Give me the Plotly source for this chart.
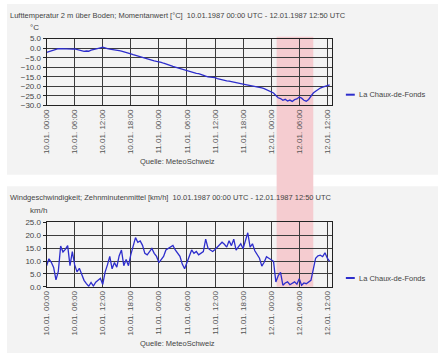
import pandas as pd
import plotly.graph_objects as go

# ---------------- data ----------------
START = "1987-01-10 00:00"
STEP = "30min"
station = "La Chaux-de-Fonds"

temperature = [
    -2.2, -1.8, -1.3, -0.8, -0.4, -0.3, -0.2, -0.3, -0.2, -0.4,
    -0.3, -0.5, -0.4, -0.8, -1.2, -1.5, -1.7, -1.5, -1.6, -1.0,
    -0.6, -0.4, -0.1, 0.2, 0.5, 0.3, -0.2, -0.5, -0.8, -0.9,
    -1.0, -1.3, -1.5, -1.8, -2.0, -2.5, -3.0, -3.4, -3.8, -4.2,
    -4.6, -5.0, -5.3, -5.6, -6.0, -6.3, -6.6, -6.9, -7.1, -7.4,
    -7.9, -8.4, -8.8, -9.2, -9.6, -9.9, -10.3, -10.7, -11.0, -11.4,
    -11.8, -12.3, -12.8, -13.1, -13.2, -13.3, -13.6, -14.0, -14.6, -15.0,
    -15.2, -15.1, -15.4, -15.9, -16.3, -16.6, -16.9, -17.1, -17.3, -17.5,
    -17.7, -18.0, -18.3, -18.6, -18.9, -19.1, -19.3, -19.6, -19.9, -20.2,
    -20.4, -20.6, -20.8, -21.2, -21.8, -22.2, -22.6, -23.5, -24.8, -26.0,
    -26.4, -27.3, -26.8, -27.7, -27.2, -27.9, -27.0, -26.6, -25.6, -26.2,
    -27.3, -27.8, -26.9, -24.9, -23.5, -22.6, -21.5, -20.9, -20.4, -19.9,
    -19.5, -19.2,
]

wind = [
    8.2, 10.9, 9.5, 7.5, 2.7, 6.0, 15.8, 13.5, 14.5, 16.0,
    8.2, 13.7, 8.5, 5.8, 7.2, 4.5, 2.5, 1.2, 0.2, 1.7,
    0.3, 1.8, 2.5, 3.3, 0.9, 5.7, 8.5, 11.8, 7.0, 9.4,
    7.6, 12.0, 14.3, 8.2, 10.6, 8.2, 12.5, 15.5, 19.1, 17.3,
    17.8, 16.1, 13.0, 12.4, 13.5, 14.9, 13.0, 11.8, 9.4, 10.5,
    11.8, 14.3, 15.0, 15.5, 16.1, 14.3, 13.0, 11.8, 8.8, 7.0,
    9.4, 12.0, 14.3, 13.0, 13.7, 12.4, 13.0, 13.7, 18.5, 15.0,
    14.3, 13.7, 14.5, 15.5, 16.1, 17.3, 16.5, 15.4, 17.9, 16.0,
    18.5, 14.2, 15.5, 16.7, 14.8, 18.0, 21.0, 15.4, 16.7, 14.0,
    12.3, 11.1, 8.0, 9.5, 11.7, 11.1, 10.5, 9.9, 1.9, 4.3,
    5.6, 0.6, 1.5, 1.9, 0.8, 1.2, 1.9, 1.0, 3.1, 0.6,
    1.5, 1.2, 2.0, 2.5, 6.8, 11.1, 12.0, 12.3, 11.7, 13.2,
    11.1, 9.9,
]

tick_times = [
    "1987-01-10 00:00", "1987-01-10 06:00", "1987-01-10 12:00", "1987-01-10 18:00",
    "1987-01-11 00:00", "1987-01-11 06:00", "1987-01-11 12:00", "1987-01-11 18:00",
    "1987-01-12 00:00", "1987-01-12 06:00", "1987-01-12 12:00",
]
tick_labels = [
    "10.01. 00:00", "10.01. 06:00", "10.01. 12:00", "10.01. 18:00",
    "11.01. 00:00", "11.01. 06:00", "11.01. 12:00", "11.01. 18:00",
    "12.01. 00:00", "12.01. 06:00", "12.01. 12:00",
]
x_range = ["1987-01-10 00:00", "1987-01-12 13:00"]
highlight = ["1987-01-12 01:10", "1987-01-12 09:00"]

title_temp = "Lufttemperatur 2 m über Boden; Momentanwert [°C]  10.01.1987 00:00 UTC - 12.01.1987 12:50 UTC"
title_wind = "Windgeschwindigkeit; Zehnminutenmittel [km/h]  10.01.1987 00:00 UTC - 12.01.1987 12:50 UTC"
source = "Quelle: MeteoSchweiz"

times_t = pd.date_range(START, periods=len(temperature), freq=STEP)
times_w = pd.date_range(START, periods=len(wind), freq=STEP)

# ---------------- figure ----------------
W, H = 440, 362
def px(x):
    return x / W
def py(y):
    return 1 - y / H

FONT = "Liberation Sans, Arial, sans-serif"
TXT = "#444444"
LINE = "#2d2dcc"
GRID = "#3c3c3c"

fig = go.Figure()
fig.add_trace(go.Scatter(x=times_t, y=temperature, mode="lines",
                         line=dict(color=LINE, width=1.3), xaxis="x", yaxis="y",
                         showlegend=False, name=station, hoverinfo="skip"))
fig.add_trace(go.Scatter(x=times_w, y=wind, mode="lines",
                         line=dict(color=LINE, width=1.3), xaxis="x2", yaxis="y2",
                         showlegend=False, name=station, hoverinfo="skip"))

xdom = [px(43), px(331)]
common_x = dict(type="date", range=x_range, tickmode="array", tickvals=tick_times,
                ticktext=tick_labels, tickangle=-90, showgrid=True, gridcolor=GRID,
                gridwidth=1, showline=True, linecolor="#222", linewidth=1, mirror=True,
                tickfont=dict(family=FONT, size=8, color="#555"), ticks="", zeroline=False,
                domain=xdom, fixedrange=True)
common_y = dict(showgrid=True, gridcolor=GRID, gridwidth=1, showline=True, linecolor="#222",
                linewidth=1, mirror=True, ticks="outside", ticklen=3, tickcolor="#222",
                tickformat=".1f", dtick=5, tickfont=dict(family=FONT, size=8, color=TXT),
                zeroline=False, fixedrange=True)

fig.update_layout(
    width=W, height=H, margin=dict(l=0, r=0, t=0, b=0),
    paper_bgcolor="white", plot_bgcolor="rgba(0,0,0,0)",
    showlegend=False,
    xaxis=dict(common_x, anchor="y"),
    yaxis=dict(common_y, anchor="x", range=[-30, 5], domain=[py(104), py(35.5)]),
    xaxis2=dict(common_x, anchor="y2"),
    yaxis2=dict(common_y, anchor="x2", range=[0, 25], domain=[py(290), py(224)]),
)

shapes = [
    dict(type="rect", xref="paper", yref="paper", x0=px(3), x1=px(438), y0=py(175), y1=py(0),
         fillcolor="#f3f3f3", line=dict(width=0), layer="below"),
    dict(type="rect", xref="paper", yref="paper", x0=px(3), x1=px(438), y0=py(358), y1=py(187),
         fillcolor="#f3f3f3", line=dict(width=0), layer="below"),
    dict(type="rect", xref="x", yref="paper", x0=highlight[0], x1=highlight[1],
         y0=py(290), y1=py(33.5), fillcolor="#f5ccd0", line=dict(width=0), layer="below"),
    dict(type="line", xref="paper", yref="paper", x0=px(345), x1=px(354), y0=py(93), y1=py(93),
         line=dict(color=LINE, width=2)),
    dict(type="line", xref="paper", yref="paper", x0=px(345), x1=px(354), y0=py(281), y1=py(281),
         line=dict(color=LINE, width=2)),
]
fig.update_layout(shapes=shapes)

def ann(text, x, y, xanchor="left", size=7.5):
    return dict(text=text, x=px(x), y=py(y), xref="paper", yref="paper", xanchor=xanchor,
                yanchor="middle", showarrow=False, font=dict(family=FONT, size=size, color=TXT))

fig.update_layout(annotations=[
    ann(title_temp, 4, 12),
    ann("°C", 24, 24, size=8),
    ann(source, 175, 162, "center"),
    ann(station, 356, 93),
    ann(title_wind, 4, 198),
    ann("km/h", 24, 212, size=8),
    ann(source, 175, 348, "center"),
    ann(station, 356, 281),
])

fig.write_html("out.html", config={"displayModeBar": False, "staticPlot": True},
               post_script="document.body.style.margin='0';document.body.style.overflow='hidden';")
